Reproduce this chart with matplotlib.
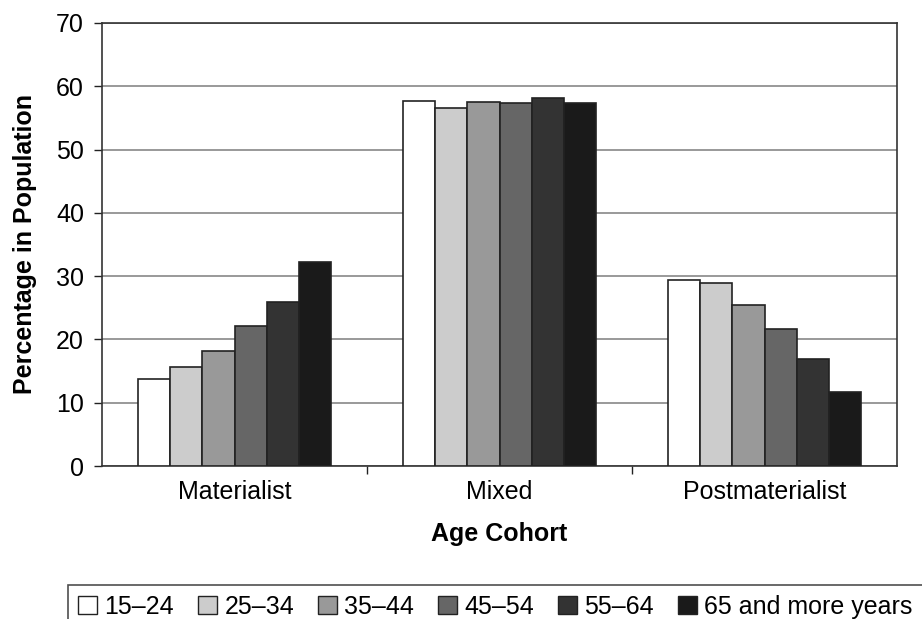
import matplotlib
matplotlib.use("Agg")
import matplotlib.pyplot as plt
import numpy as np
from matplotlib.patches import Patch

plt.rcParams['font.family'] = ['Liberation Sans', 'DejaVu Sans']

categories = ["Materialist", "Mixed", "Postmaterialist"]
cohorts = ["15\u201324", "25\u201334", "35\u201344", "45\u201354", "55\u201364", "65 and more years"]
values = {
    "15\u201324": [13.8, 57.6, 29.4],
    "25\u201334": [15.6, 56.5, 28.9],
    "35\u201344": [18.1, 57.5, 25.5],
    "45\u201354": [22.1, 57.4, 21.6],
    "55\u201364": [25.9, 58.2, 16.9],
    "65 and more years": [32.2, 57.4, 11.7],
}
colors = ["#ffffff", "#cccccc", "#999999", "#666666", "#333333", "#1a1a1a"]
yticks = [0, 10, 20, 30, 40, 50, 60, 70]

FS = 18

fig = plt.figure(figsize=(9.22, 6.19), dpi=100)
ax = fig.add_axes([102/922, 1-466/619, (897-102)/922, (466-23)/619])

x = np.arange(len(categories))
w = 0.122
for i, c in enumerate(cohorts):
    ax.bar(x + (i - 2.5) * w, values[c], width=w, color=colors[i],
           edgecolor="#222222", linewidth=1.2, zorder=3)

ax.set_xlim(-0.5, 2.5)
ax.set_ylim(0, 70)
ax.set_yticks(yticks)
ax.yaxis.grid(True, color="#888888", linewidth=1.2, zorder=0)
ax.set_xticks(x)
ax.set_xticklabels(categories, fontsize=FS)
ax.tick_params(axis='x', which='major', length=0, pad=10)
ax.set_xticks([0.5, 1.5], minor=True)
ax.tick_params(axis='x', which='minor', length=6, width=1, color="#222222", direction='out')
ax.tick_params(axis='y', labelsize=FS, length=6, width=1, color="#222222", direction='out', pad=7)
for s in ax.spines.values():
    s.set_color("#333333")
    s.set_linewidth(1.2)

ax.set_ylabel("Percentage in Population", fontsize=FS, fontweight='bold')
ax.yaxis.set_label_coords(-0.082, 0.5)
ax.set_xlabel("Age Cohort", fontsize=FS, fontweight='bold')
ax.xaxis.set_label_coords(0.5, -0.126)

handles = [Patch(facecolor=colors[i], edgecolor="#222222", linewidth=1.0, label=c)
           for i, c in enumerate(cohorts)]
leg = fig.legend(handles=handles, loc='upper left',
                 bbox_to_anchor=(68/922, 1-585/619), ncol=6, fontsize=FS,
                 frameon=True, fancybox=False, edgecolor="#222222",
                 handlelength=0.76, handleheight=0.72, handletextpad=0.3,
                 columnspacing=0.95, borderpad=0.4, borderaxespad=0)
leg.get_frame().set_linewidth(1.2)

fig.savefig("out.png", dpi=100)
